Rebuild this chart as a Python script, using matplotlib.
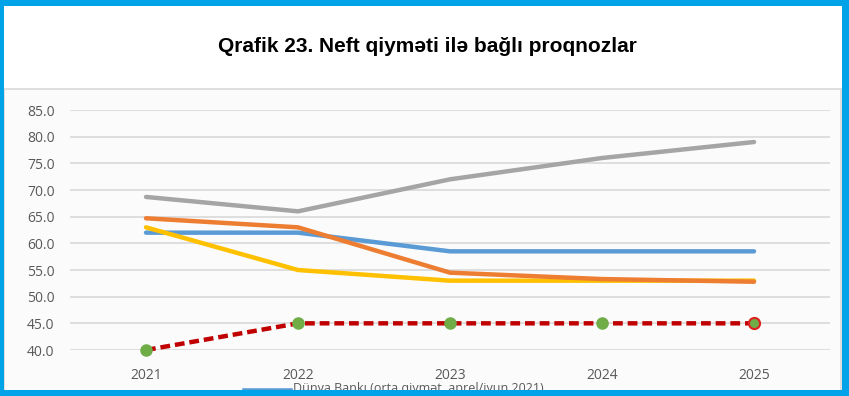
import matplotlib.pyplot as plt
from matplotlib.patches import Rectangle
from matplotlib.lines import Line2D

years = ["2021", "2022", "2023", "2024", "2025"]
dunya_banki = [62.0, 62.0, 58.5, 58.5, 58.5]
seriya2 = [64.7, 63.0, 54.5, 53.3, 52.8]
seriya3 = [68.7, 66.0, 72.0, 76.0, 79.0]
seriya4 = [63.0, 55.0, 53.0, 53.0, 53.0]
budce = [40.0, 45.0, 45.0, 45.0, 45.0]
yticks = [40, 45, 50, 55, 60, 65, 70, 75, 80, 85]

W, H = 849, 396
fig = plt.figure(figsize=(W / 100, H / 100), dpi=100)
fig.patch.set_facecolor("white")

# chart area frame
fig.patches.append(Rectangle((4 / W, 0), 837 / W, 1 - 89 / H, transform=fig.transFigure,
                             facecolor="#fbfbfb", edgecolor="#d9d9d9", lw=1.2, zorder=0))

ax = fig.add_axes([70 / W, 1 - 350 / H, 760 / W, 240 / H])
ax.set_zorder(2)
ax.set_facecolor("none")
x = range(len(years))
ax.plot(x, dunya_banki, color="#5b9bd5", lw=3.2, solid_capstyle="round", zorder=3)
ax.plot(x, seriya2, color="#ed7d31", lw=3.2, solid_capstyle="round", zorder=4)
ax.plot(x, seriya3, color="#a5a5a5", lw=3.2, solid_capstyle="round", zorder=3)
ax.plot(x, seriya4, color="#ffc000", lw=3.2, solid_capstyle="round", zorder=3)
ax.plot(x, budce, color="#c00000", lw=3.2, ls=(0, (2.2, 1.1)), zorder=5)
ax.plot(list(x)[:-1], budce[:-1], ls="none", marker="o", ms=8, color="#70ad47", zorder=6)
ax.plot([4], [budce[-1]], ls="none", marker="o", ms=8, mfc="#70ad47", mec="#e02020", mew=1.5, zorder=6)

ax.set_xlim(-0.5, 4.5)
ax.set_ylim(40, 85)
ax.set_yticks(yticks)
ax.set_yticklabels([f"{v:.1f}" for v in yticks], family="Open Sans")
ax.set_xticks(list(x))
ax.set_xticklabels(years, family="Open Sans")
ax.grid(axis="y", color="#d9d9d9", lw=1.2)
ax.set_axisbelow(True)
for s in ax.spines.values():
    s.set_visible(False)
ax.tick_params(length=0, labelsize=10, labelcolor="#595959")
ax.tick_params(axis="x", pad=13)
ax.tick_params(axis="y", pad=11)
for l in ax.get_lines():
    l.set_clip_on(False)

fig.text(427 / W, 1 - 47 / H, "Qrafik 23. Neft qiymәti ilә bağlı proqnozlar",
         ha="center", va="center", fontsize=15, fontweight="bold", family="Liberation Sans")

# legend (cut off by the border)
fig.add_artist(Line2D([245 / W, 290 / W], [1 - 391 / H, 1 - 391 / H], transform=fig.transFigure,
                      color="#5b9bd5", lw=4, zorder=1))
fig.text(293 / W, 1 - 382 / H, "Dünya Bankı (orta qiymәt, aprel/iyun 2021)",
         ha="left", va="top", fontsize=9, color="#595959", family="Open Sans", zorder=1)

# cyan border
cy = "#00a3e8"
for (x0, y0, w, h) in [(0, 0, W, 6), (0, H - 6, W, 6), (0, 0, 4, H), (W - 7, 0, 7, H)]:
    fig.patches.append(Rectangle((x0 / W, y0 / H), w / W, h / H, transform=fig.transFigure,
                                 facecolor=cy, edgecolor="none", zorder=10))

fig.savefig("out.png", dpi=100)
